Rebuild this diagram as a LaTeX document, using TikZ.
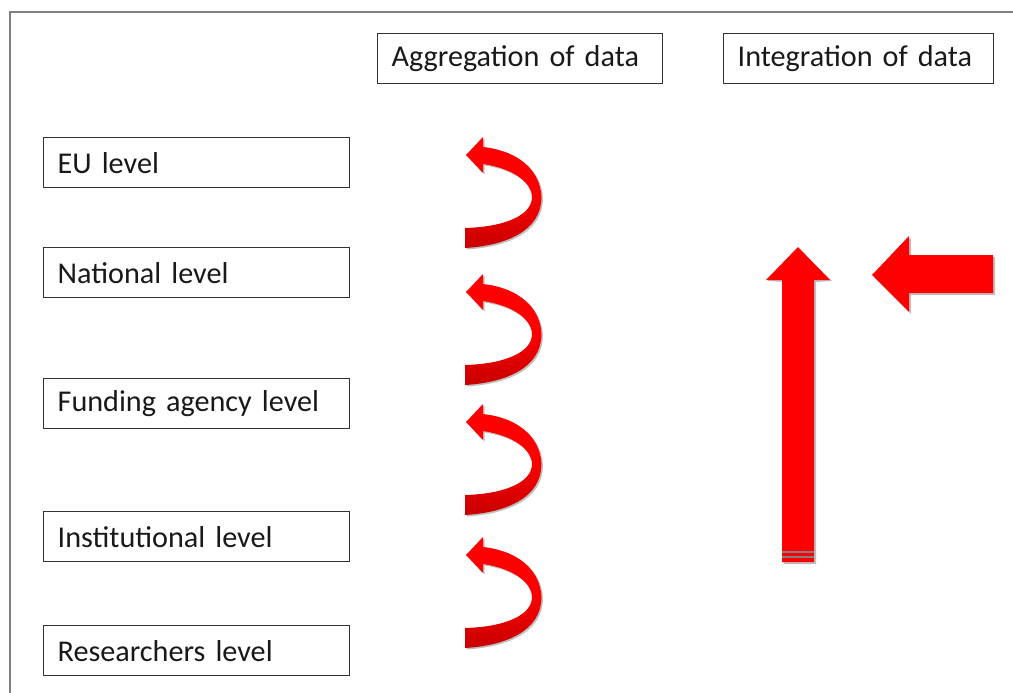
\documentclass[tikz,border=0pt]{standalone}
\usepackage{fontspec}
\setmainfont{Carlito}
\begin{document}
\begin{tikzpicture}[x=1pt,y=-1pt]
\useasboundingbox (0,0) rectangle (1013,693);
\tikzset{
  lbl/.style={draw=black!80, line width=1.3pt, anchor=north west, inner xsep=14pt, inner ysep=0pt,
    minimum height=50pt, align=left, font=\fontsize{30.2}{34}\selectfont, text=black!90},
  redfill/.style={fill=red, draw=none},
  shadowfill/.style={fill=black, opacity=0.25, draw=none},
  curvy/.pic={
    \fill[shadowfill, shift={(1.5,1.5)}] (0,93) .. controls (50,90) and (80,70) .. (76,37) .. controls (72,10) and (47,-5) .. (18,-8) -- (18,-18) -- (1,0) -- (18,18) -- (18,9) .. controls (45,13) and (65,25) .. (67,41) .. controls (68,60) and (40,72) .. (0,73) -- cycle;
    \shade[top color=red, bottom color=red!78!black, middle color=red] (0,93) .. controls (50,90) and (80,70) .. (76,37) .. controls (72,10) and (47,-5) .. (18,-8) -- (18,-18) -- (1,0) -- (18,18) -- (18,9) .. controls (45,13) and (65,25) .. (67,41) .. controls (68,60) and (40,72) .. (0,73) -- cycle;
  }
}
% outer frame
\draw[gray, line width=2pt] (10,710) -- (10,12) -- (1030,12);
% header boxes
\node[lbl, text width=257pt] (agg) at (377,33) {Aggregation of data};
\node[lbl, text width=242pt] (int) at (723,33) {Integration of data};
% level boxes
\node[lbl, text width=278pt] (eu) at (43,137) {EU level};
\node[lbl, text width=278pt] (nat) at (43,247) {National level};
\node[lbl, text width=278pt] (fund) at (43,378) {Funding agency level};
\node[lbl, text width=278pt] (inst) at (43,511) {Institutional level};
\node[lbl, text width=278pt] (res) at (43,625) {Researchers level};
% curved aggregation arrows
\pic at (465,155) {curvy};
\pic at (465,292) {curvy};
\pic at (465,422) {curvy};
\pic at (465,555) {curvy};
% integration arrows
\fill[shadowfill] (784,282) -- (768,281) -- (799,249) -- (832,281) -- (816,282) -- (816,564) -- (784,564) -- cycle;
\fill[redfill] (782,280) -- (766,280) -- (798,247) -- (830,280) -- (814,280) -- (814,562) -- (782,562) -- cycle;
\draw[gray, line width=1.2pt] (782,552) -- (814,552) (782,557) -- (814,557);
\fill[shadowfill] (995,257) -- (911,257) -- (911,238) -- (874,277) -- (911,314) -- (911,295) -- (995,295) -- cycle;
\fill[redfill] (993,255) -- (909,255) -- (909,236) -- (872,275) -- (909,312) -- (909,293) -- (993,293) -- cycle;
\end{tikzpicture}
\end{document}
